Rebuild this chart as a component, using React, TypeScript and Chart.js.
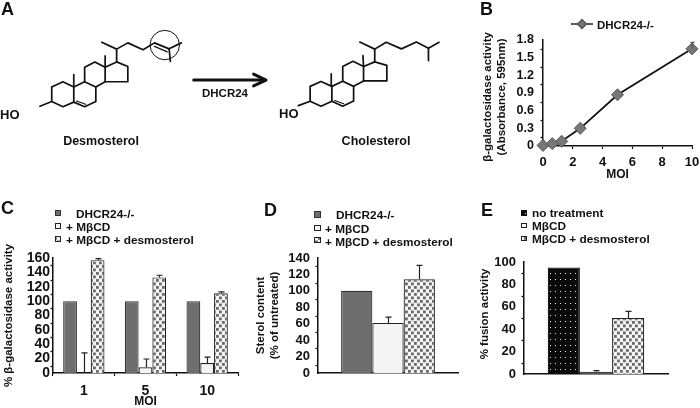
import React, { useEffect, useRef } from "react";
import { Chart, registerables } from "chart.js";

Chart.register(...registerables);

const FONT = '"Liberation Sans", Arial, sans-serif';

// ---- Panel B
const moiB = [0, 0.625, 1.25, 2.5, 5, 10];
const absorbance = [0.01, 0.04, 0.08, 0.3, 0.87, 1.65];
const absorbanceTop = [0.01, 0.04, 0.08, 0.3, 0.87, 1.76];

// ---- Panel C
const moiC = ["1", "5", "10"];
const cDhcr = [100, 100, 100];
const cMbcd = [0, 8, 14];
const cMbcdTop = [28, 19.5, 22];
const cDes = [157, 133, 111];
const cDesTop = [159, 136, 113];

// ---- Panel D
const dDhcr = [100];
const dMbcd = [61];
const dMbcdTop = [68];
const dDes = [114];
const dDesTop = [131];

// ---- Panel E
const eNone = [95];
const eMbcd = [2];
const eMbcdTop = [3];
const eDes = [50];
const eDesTop = [56];

// ---- Panel A, bonds in a 1380 x 510 drawing space
const desmosterolBonds = [
  [[116, 262], [152, 243], [187, 262], [187, 318], [152, 335], [116, 316], [116, 262]],
  [[116, 316], [78, 333]],
  [[187, 262], [222, 243], [258, 262], [258, 316], [222, 335], [187, 318]],
  [[222, 243], [222, 190], [255, 170], [288, 190], [288, 243], [258, 262]],
  [[288, 190], [325, 170], [361, 187], [361, 243], [288, 243]],
  [[187, 262], [187, 217]],
  [[288, 190], [288, 148]],
  [[325, 170], [325, 123], [277, 98]],
  [[325, 123], [361, 100], [410, 125], [447, 100], [494, 122], [533, 100]],
  [[494, 122], [498, 168]],
];
const desmosterolDouble = [
  [[196, 314], [225, 326]],
  [[447, 113], [488, 133]],
];
const cholesterolBonds = [
  [[948, 260], [983, 242], [1018, 260], [1018, 315], [983, 333], [948, 315], [948, 260]],
  [[948, 315], [910, 331]],
  [[1018, 260], [1053, 241], [1088, 260], [1088, 314], [1053, 333], [1018, 315]],
  [[1053, 241], [1053, 187], [1086, 168], [1120, 187], [1120, 240], [1088, 260]],
  [[1120, 187], [1156, 170], [1195, 183], [1195, 240], [1120, 240]],
  [[1018, 260], [1016, 214]],
  [[1120, 187], [1118, 147]],
  [[1156, 170], [1156, 123], [1108, 97]],
  [[1156, 123], [1193, 98], [1242, 122], [1290, 97], [1329, 120], [1363, 98]],
  [[1329, 120], [1329, 165]],
];
const cholesterolDouble = [[[1027, 312], [1056, 324]]];
const arrowShaft = [[573, 237], [804, 237]];
const arrowHead = [[766, 215], [806, 237], [766, 258]];
const circledBond = [[480, 108]];

type Note = { t: string; x: number; y: number; size?: number; rot?: boolean; align?: CanvasTextAlign };
type Box = { x: number; y: number; w: number; h: number };

function dotPattern(bg: string, dot: string, w: number, h: number, d: number, stagger: boolean) {
  const c = document.createElement("canvas");
  c.width = w;
  c.height = h;
  const g = c.getContext("2d")!;
  g.fillStyle = bg;
  g.fillRect(0, 0, w, h);
  g.fillStyle = dot;
  g.fillRect(0, 0, d, d);
  if (stagger) g.fillRect(w / 2, h / 2, d, d);
  return g.createPattern(c, "repeat")!;
}

function annotPlugin(opts: {
  notes?: Note[];
  swatches?: { x: number; y: number; w: number; h: number; fill: any; stroke: string }[];
  minorStep?: number;
  errors?: { ds: number; tops: number[] }[];
  capHalf?: number;
  errColor?: string;
}) {
  return {
    id: "annot",
    afterDatasetsDraw(chart: any) {
      const ctx = chart.ctx;
      const yS = chart.scales.y;
      ctx.save();
      (opts.errors || []).forEach((e) => {
        const meta = chart.getDatasetMeta(e.ds);
        const vals = chart.data.datasets[e.ds].data;
        e.tops.forEach((top, i) => {
          const v = typeof vals[i] === "number" ? vals[i] : vals[i].y;
          if (top <= v) return;
          const el = meta.data[i];
          const x = Math.round(el.x);
          const yTop = yS.getPixelForValue(top);
          ctx.strokeStyle = opts.errColor ?? "#222";
          ctx.lineWidth = 1.2;
          ctx.beginPath();
          ctx.moveTo(x + 0.5, el.y);
          ctx.lineTo(x + 0.5, yTop);
          const h = opts.capHalf ?? 3;
          ctx.moveTo(x + 0.5 - h, yTop);
          ctx.lineTo(x + 0.5 + h, yTop);
          ctx.stroke();
        });
      });
      if (opts.minorStep) {
        ctx.strokeStyle = "#111";
        ctx.lineWidth = 1.3;
        for (let v = yS.min + opts.minorStep; v < yS.max; v += 2 * opts.minorStep) {
          const p = Math.round(yS.getPixelForValue(v)) + 0.5;
          ctx.beginPath();
          ctx.moveTo(yS.right - 2.5, p);
          ctx.lineTo(yS.right, p);
          ctx.stroke();
        }
      }
      (opts.swatches || []).forEach((s) => {
        ctx.fillStyle = s.fill;
        ctx.strokeStyle = s.stroke;
        ctx.lineWidth = 1;
        ctx.fillRect(s.x, s.y, s.w, s.h);
        ctx.strokeRect(s.x + 0.5, s.y + 0.5, s.w - 1, s.h - 1);
      });
      ctx.fillStyle = "#111";
      ctx.textBaseline = "middle";
      (opts.notes || []).forEach((n) => {
        ctx.save();
        ctx.font = `bold ${n.size ?? 11.8}px ${FONT}`;
        ctx.textAlign = n.align ?? "left";
        ctx.translate(n.x, n.y);
        if (n.rot) ctx.rotate(-Math.PI / 2);
        ctx.fillText(n.t, 0, 0);
        ctx.restore();
      });
      ctx.restore();
    },
  };
}

// Tick labels may overhang the plot area: the plot keeps its exact box.
function noOverhang(s: any) {
  s.paddingLeft = 0;
  s.paddingRight = 0;
  s.paddingTop = 0;
  s.paddingBottom = 0;
}

function yAxis(max: number, step: number, width: number, size: number, pad: number, extra: any = {}) {
  return {
    min: 0,
    max,
    afterFit: (s: any) => {
      s.width = width;
      noOverhang(s);
    },
    border: { display: true, color: "#111", width: 1.5 },
    grid: { display: false, drawTicks: true, tickLength: 3, tickColor: "#111", tickWidth: 1.3, drawOnChartArea: false },
    ticks: {
      stepSize: step,
      color: "#111",
      padding: pad,
      font: { family: FONT, weight: "bold" as const, size },
      autoSkip: false,
      ...extra,
    },
  };
}

function layoutFor(canvas: Box, plot: { l: number; t: number; r: number; b: number }) {
  return { padding: { left: 0, top: plot.t - canvas.y, right: canvas.x + canvas.w - plot.r, bottom: 0 } };
}

const toXY = (pts: number[][]) => pts.map(([x, y]) => ({ x, y }));

const panelA: Box = { x: 0, y: 0, w: 460, h: 170 };
const panelB: Box = { x: 460, y: 0, w: 240, h: 190 };
const panelC: Box = { x: 0, y: 195, w: 240, h: 213 };
const panelD: Box = { x: 240, y: 195, w: 230, h: 213 };
const panelE: Box = { x: 470, y: 195, w: 230, h: 213 };

function barDs(label: string, data: number[], fill: any, stroke: string) {
  return {
    label,
    data,
    backgroundColor: fill,
    borderColor: stroke,
    borderWidth: 1.2,
    barPercentage: 1,
    categoryPercentage: 0.67,
  };
}

export default function App() {
  const refs = [
    useRef<HTMLCanvasElement>(null),
    useRef<HTMLCanvasElement>(null),
    useRef<HTMLCanvasElement>(null),
    useRef<HTMLCanvasElement>(null),
    useRef<HTMLCanvasElement>(null),
  ];

  useEffect(() => {
    const greyDots = dotPattern("#f4f4f4", "#6a6a6a", 6, 7, 2.8, true);
    const blackDots = dotPattern("#0a0a0a", "#e8e8e8", 5, 6, 1, false);
    const common = { responsive: false, animation: false as const, events: [] as any[] };
    const noLegend = { legend: { display: false }, tooltip: { enabled: false } };
    const charts: Chart[] = [];

    // Panel A
    const bond = (pts: number[][], w: number, color = "#111") => ({
      data: toXY(pts),
      showLine: true,
      borderColor: color,
      borderWidth: w,
      pointRadius: 0,
      tension: 0,
      clip: false,
      borderCapStyle: "round",
      borderJoinStyle: "round",
    });
    charts.push(
      new Chart(refs[0].current!, {
        type: "scatter",
        data: {
          datasets: [
            ...desmosterolBonds.map((b) => bond(b, 1.7)),
            ...desmosterolDouble.map((b) => bond(b, 1.2)),
            ...cholesterolBonds.map((b) => bond(b, 1.7)),
            ...cholesterolDouble.map((b) => bond(b, 1.2)),
            bond(arrowShaft, 3),
            bond(arrowHead, 3),
            {
              data: toXY(circledBond),
              pointRadius: 14.7,
              pointBorderWidth: 1,
              pointBorderColor: "#111",
              pointBackgroundColor: "rgba(0,0,0,0)",
              clip: false,
            },
          ] as any,
        },
        options: {
          ...common,
          layout: { padding: 0 },
          plugins: noLegend,
          scales: {
            x: { type: "linear", display: false, min: 0, max: 1380 },
            y: { type: "linear", display: false, min: 0, max: 510, reverse: true },
          },
        } as any,
        plugins: [
          annotPlugin({
            notes: [
              { t: "A", x: 1, y: 10, size: 18 },
              { t: "HO", x: 0, y: 115, size: 13 },
              { t: "HO", x: 279, y: 114, size: 13 },
              { t: "DHCR24", x: 225, y: 94, size: 11.5, align: "center" },
              { t: "Desmosterol", x: 101, y: 142, size: 12.5, align: "center" },
              { t: "Cholesterol", x: 376, y: 142, size: 12.5, align: "center" },
            ],
          }),
        ] as any,
      })
    );

    // Panel B
    const plotB = { l: 543, t: 40, r: 692, b: 146 };
    charts.push(
      new Chart(refs[1].current!, {
        type: "scatter",
        data: {
          datasets: [
            {
              label: "DHCR24-/-",
              data: moiB.map((x, i) => ({ x, y: absorbance[i] })),
              showLine: true,
              tension: 0,
              borderColor: "#111",
              borderWidth: 1.8,
              pointStyle: "rectRot",
              pointRadius: 6,
              pointBackgroundColor: "#777",
              pointBorderColor: "#555",
              pointBorderWidth: 1,
              clip: false,
            },
          ] as any,
        },
        options: {
          ...common,
          layout: layoutFor(panelB, plotB),
          plugins: noLegend,
          scales: {
            x: {
              type: "linear",
              min: 0,
              max: 10,
              afterFit: (s: any) => {
                s.height = panelB.y + panelB.h - plotB.b;
                noOverhang(s);
              },
              border: { display: true, color: "#111", width: 1.5 },
              grid: { drawOnChartArea: false, tickLength: 3, tickColor: "#111", tickWidth: 1.2 },
              ticks: { stepSize: 2, color: "#111", padding: 6, font: { family: FONT, weight: "bold", size: 13 } },
              title: { display: true, text: "MOI", color: "#111", padding: { top: 0, bottom: 8 }, font: { family: FONT, weight: "bold", size: 12 } },
            },
            y: yAxis(1.8, 0.3, plotB.l - panelB.x, 12.5, 6, { callback: (v: number) => (v === 0 ? "0" : v.toFixed(1)) }),
          },
        } as any,
        plugins: [
          annotPlugin({
            minorStep: 0.15,
            capHalf: 2,
            errColor: "#555",
            errors: [{ ds: 0, tops: absorbanceTop }],
            notes: [
              { t: "B", x: 20, y: 10, size: 18 },
              { t: "β-galactosidase activity", x: 28, y: 97, size: 11.5, rot: true, align: "center" },
              { t: "(Absorbance, 595nm)", x: 42, y: 97, size: 11.5, rot: true, align: "center" },
              { t: "DHCR24-/-", x: 137, y: 26, size: 11.5 },
            ],
          }),
          {
            id: "legendB",
            afterDatasetsDraw(chart: any) {
              const c = chart.ctx;
              c.save();
              c.strokeStyle = "#111";
              c.lineWidth = 1.4;
              c.beginPath();
              c.moveTo(111, 24);
              c.lineTo(133, 24);
              c.stroke();
              c.fillStyle = "#777";
              c.strokeStyle = "#555";
              c.beginPath();
              c.moveTo(122, 19.5);
              c.lineTo(126.5, 24);
              c.lineTo(122, 28.5);
              c.lineTo(117.5, 24);
              c.closePath();
              c.fill();
              c.stroke();
              c.restore();
            },
          },
        ] as any,
      })
    );

    // Panel C
    const plotC = { l: 53, t: 258, r: 238, b: 373 };
    charts.push(
      new Chart(refs[2].current!, {
        type: "bar",
        data: {
          labels: moiC,
          datasets: [
            barDs("DHCR24-/-", cDhcr, "#6e6e6e", "#333"),
            barDs("+ MβCD", cMbcd, "#f4f4f4", "#222"),
            barDs("+ MβCD + desmosterol", cDes, greyDots, "#222"),
          ] as any,
        },
        options: {
          ...common,
          layout: layoutFor(panelC, plotC),
          plugins: noLegend,
          scales: {
            x: {
              afterFit: (s: any) => {
                s.height = panelC.y + panelC.h - plotC.b;
                noOverhang(s);
              },
              border: { display: true, color: "#111", width: 1.5 },
              grid: { drawOnChartArea: false, offset: true, tickLength: 3, tickColor: "#111", tickWidth: 1.2 },
              ticks: { color: "#111", padding: 7, font: { family: FONT, weight: "bold", size: 14 } },
              title: { display: true, text: "MOI", color: "#111", padding: { top: 0, bottom: 0 }, font: { family: FONT, weight: "bold", size: 12, lineHeight: 1 } },
            },
            y: {
              ...yAxis(160, 20, plotC.l - panelC.x, 14, 0),
              title: { display: true, text: "% β-galactosidase activity", color: "#111", padding: { top: 2, bottom: 0 }, font: { family: FONT, weight: "bold", size: 11.5 } },
            },
          },
        } as any,
        plugins: [
          annotPlugin({
            minorStep: 10,
            errors: [
              { ds: 1, tops: cMbcdTop },
              { ds: 2, tops: cDesTop },
            ],
            swatches: [
              { x: 55, y: 15, w: 6, h: 6, fill: "#6e6e6e", stroke: "#333" },
              { x: 55, y: 28, w: 6, h: 6, fill: "#f4f4f4", stroke: "#222" },
              { x: 55, y: 41, w: 6, h: 6, fill: greyDots, stroke: "#222" },
            ],
            notes: [
              { t: "C", x: 1, y: 14, size: 18 },
              { t: "DHCR24-/-", x: 76, y: 20 },
              { t: "+ MβCD", x: 66, y: 33 },
              { t: "+ MβCD + desmosterol", x: 66, y: 46 },
            ],
          }),
        ] as any,
      })
    );

    // Panel D
    const plotD = { l: 318, t: 258, r: 458, b: 373 };
    charts.push(
      new Chart(refs[3].current!, {
        type: "bar",
        data: {
          labels: [""],
          datasets: [
            barDs("DHCR24-/-", dDhcr, "#6e6e6e", "#333"),
            barDs("+ MβCD", dMbcd, "#f4f4f4", "#222"),
            barDs("+ MβCD + desmosterol", dDes, greyDots, "#222"),
          ] as any,
        },
        options: {
          ...common,
          layout: layoutFor(panelD, plotD),
          plugins: noLegend,
          scales: {
            x: {
              afterFit: (s: any) => {
                s.height = panelD.y + panelD.h - plotD.b;
                noOverhang(s);
              },
              border: { display: true, color: "#111", width: 1.5 },
              grid: { display: false },
              ticks: { display: false },
            },
            y: {
              ...yAxis(140, 20, plotD.l - panelD.x, 13, 5),
              title: { display: true, text: ["Sterol content", "(% of untreated)"], color: "#111", padding: { top: 14, bottom: 0 }, font: { family: FONT, weight: "bold", size: 11.5 } },
            },
          },
        } as any,
        plugins: [
          annotPlugin({
            minorStep: 10,
            errors: [
              { ds: 1, tops: dMbcdTop },
              { ds: 2, tops: dDesTop },
            ],
            swatches: [
              { x: 74, y: 16, w: 7, h: 7, fill: "#6e6e6e", stroke: "#333" },
              { x: 74, y: 30, w: 7, h: 6, fill: "#f4f4f4", stroke: "#222" },
              { x: 74, y: 42, w: 7, h: 6, fill: greyDots, stroke: "#222" },
            ],
            notes: [
              { t: "D", x: 24, y: 16, size: 18 },
              { t: "DHCR24-/-", x: 96, y: 21 },
              { t: "+ MβCD", x: 85, y: 35 },
              { t: "+ MβCD + desmosterol", x: 85, y: 48 },
            ],
          }),
        ] as any,
      })
    );

    // Panel E
    const plotE = { l: 524, t: 262, r: 668, b: 374 };
    charts.push(
      new Chart(refs[4].current!, {
        type: "bar",
        data: {
          labels: [""],
          datasets: [
            barDs("no treatment", eNone, blackDots, "#111"),
            barDs("MβCD", eMbcd, "#555", "#444"),
            barDs("MβCD + desmosterol", eDes, greyDots, "#222"),
          ] as any,
        },
        options: {
          ...common,
          layout: layoutFor(panelE, plotE),
          plugins: noLegend,
          scales: {
            x: {
              afterFit: (s: any) => {
                s.height = panelE.y + panelE.h - plotE.b;
                noOverhang(s);
              },
              border: { display: true, color: "#111", width: 1.5 },
              grid: { display: false },
              ticks: { display: false },
            },
            y: yAxis(100, 20, plotE.l - panelE.x, 13, 5),
          },
        } as any,
        plugins: [
          annotPlugin({
            minorStep: 10,
            errors: [
              { ds: 1, tops: eMbcdTop },
              { ds: 2, tops: eDesTop },
            ],
            swatches: [
              { x: 51, y: 15, w: 6, h: 6, fill: blackDots, stroke: "#111" },
              { x: 51, y: 28, w: 6, h: 5, fill: "#f4f4f4", stroke: "#222" },
              { x: 51, y: 41, w: 6, h: 5, fill: greyDots, stroke: "#222" },
            ],
            notes: [
              { t: "E", x: 11, y: 16, size: 18 },
              { t: "no treatment", x: 62, y: 19 },
              { t: "MβCD", x: 62, y: 32 },
              { t: "MβCD + desmosterol", x: 62, y: 45 },
              { t: "% fusion activity", x: 15, y: 119, size: 11.5, rot: true, align: "center" },
            ],
          }),
        ] as any,
      })
    );

    return () => charts.forEach((c) => c.destroy());
  }, []);

  const boxes = [panelA, panelB, panelC, panelD, panelE];
  return (
    <div style={{ position: "absolute", left: 0, top: 0, width: 700, height: 408, background: "#fff", overflow: "hidden", filter: "blur(0.4px)" }}>
      {boxes.map((b, i) => (
        <canvas
          key={i}
          ref={refs[i]}
          width={b.w}
          height={b.h}
          style={{ position: "absolute", left: b.x, top: b.y, width: b.w, height: b.h }}
        />
      ))}
    </div>
  );
}
